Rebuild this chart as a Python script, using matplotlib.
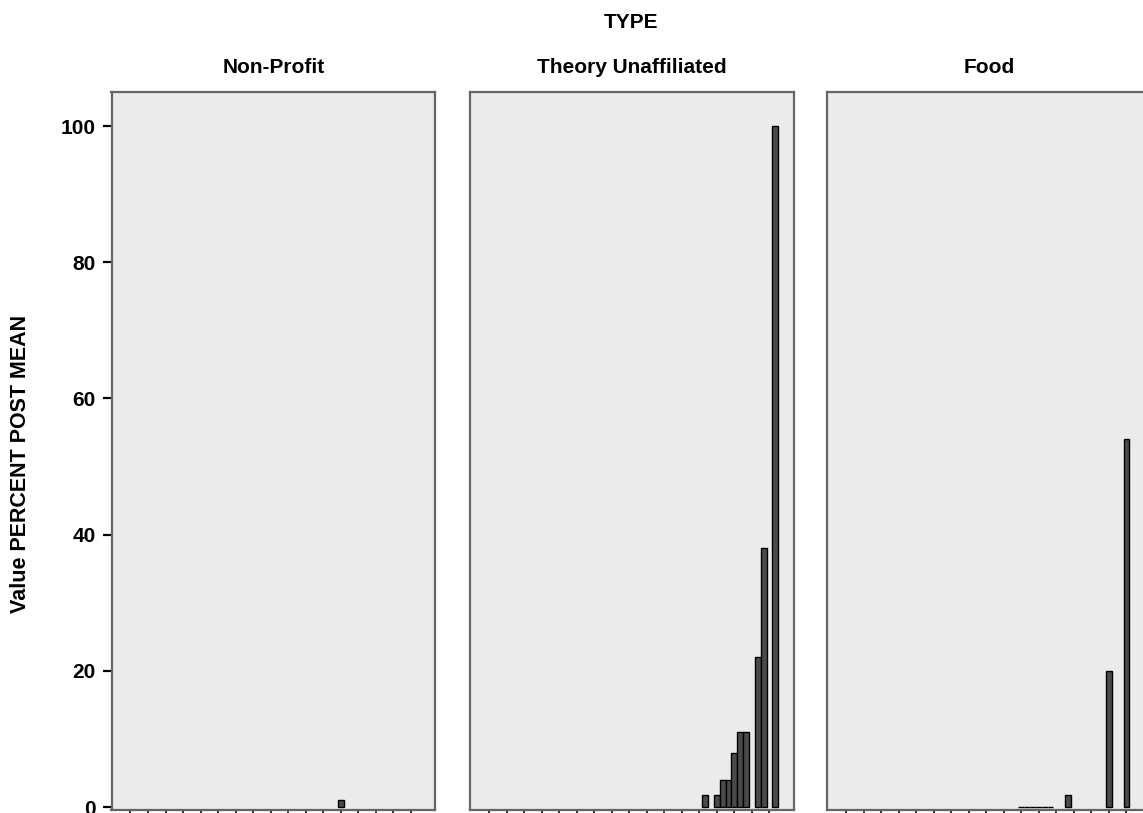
import matplotlib
matplotlib.use("Agg")
import matplotlib.pyplot as plt

plt.rcParams['font.family'] = ['Liberation Sans', 'DejaVu Sans']
plt.rcParams['font.weight'] = 'bold'

# panels (TYPE) and the bars in each one
# x is in "slot" units: category k has its tick at 3*k, cluster bars at 3k-1, 3k, 3k+1
panel_names = ['Non-Profit', 'Theory Unaffiliated', 'Food']

nonprofit_slots = [36]
nonprofit_vals = [1.0]

theory_slots = [37, 39, 40, 41, 42, 43, 44, 46, 47, 49]
theory_vals = [1.8, 1.8, 4, 4, 8, 11, 11, 22, 38, 100]

food_slots = [30, 31, 32, 33, 34, 35, 38, 45, 48]
food_vals = [0, 0, 0, 0, 0, 0, 1.8, 20, 54]

n_categories = 17
y_ticks = [0, 20, 40, 60, 80, 100]

W, H = 1143, 813
fig = plt.figure(figsize=(W / 100, H / 100), dpi=100)

# panel left edges in pixels, same width for all
lefts = [111.5, 470, 827]
pw = 324
top_px, bot_px = 92, 809.5

slots = [nonprofit_slots, theory_slots, food_slots]
vals = [nonprofit_vals, theory_vals, food_vals]

for i, name in enumerate(panel_names):
    ax = fig.add_axes([lefts[i] / W, (H - bot_px) / H, pw / W, (bot_px - top_px) / H])
    ax.set_facecolor('#ebebeb')
    ax.bar(slots[i], vals[i], width=1.0, color='#4a4a4a',
           edgecolor='black', linewidth=1.0, zorder=3)
    ax.set_xlim(-3.25, 52.2)
    ax.set_ylim(-0.35, 105.0)
    ax.set_xticks([3 * k for k in range(n_categories)])
    ax.set_xticklabels([])
    ax.tick_params(axis='x', direction='out', length=4, width=1.3, color='#222222')
    if i == 0:
        ax.set_yticks(y_ticks)
        ax.set_yticklabels([str(v) for v in y_ticks], fontsize=15, fontweight='bold')
        ax.tick_params(axis='y', direction='out', length=6.5, width=1.6,
                       color='black', pad=5)
    else:
        ax.set_yticks([])
    for sp in ax.spines.values():
        sp.set_color('#656565')
        sp.set_linewidth(1.6)
    cx = (lefts[i] + pw / 2) / W
    fig.text(cx, (H - 73) / H, name, ha='center', va='baseline',
             fontsize=15, fontweight='bold')

fig.text(630.5 / W, (H - 28) / H, 'TYPE', ha='center', va='baseline',
         fontsize=15, fontweight='bold')
fig.text(21 / W, (H - 464) / H, 'Value PERCENT POST MEAN', rotation=90,
         ha='center', va='center', fontsize=15.5, fontweight='bold')

fig.savefig('out.png', dpi=100)
